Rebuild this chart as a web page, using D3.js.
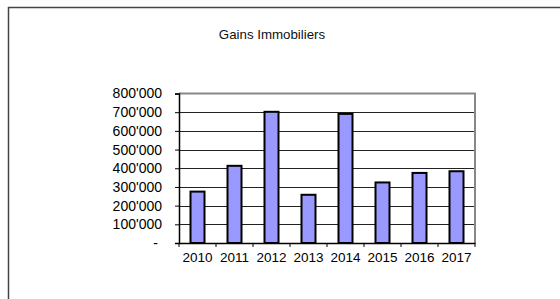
<!DOCTYPE html>
<html>
<head>
<meta charset="utf-8">
<script src="https://cdn.jsdelivr.net/npm/d3@7"></script>
<style>
  body { margin: 0; background: #fff; }
  svg { display: block; font-family: "Liberation Sans", Arial, sans-serif; }
</style>
</head>
<body>
<svg width="560" height="299"></svg>
<script>
// chart data
var years = ["2010", "2011", "2012", "2013", "2014", "2015", "2016", "2017"];
var gains = [275000, 413000, 702000, 258000, 691000, 324000, 375000, 384000];
var yTicks = [0, 100000, 200000, 300000, 400000, 500000, 600000, 700000, 800000];

var svg = d3.select("svg");
var plotLeft = 179, plotRight = 475, plotTop = 93.5, plotBottom = 243;

// outer frame (left + top edges only visible)
svg.append("path")
  .attr("d", "M8.5,299V7.5H560")
  .attr("fill", "none")
  .attr("stroke", "#444")
  .attr("stroke-width", 1.5);

svg.append("text")
  .attr("x", 272)
  .attr("y", 39)
  .attr("text-anchor", "middle")
  .attr("font-size", 13.3)
  .attr("fill", "#111")
  .text("Gains Immobiliers");

var x = d3.scaleBand().domain(years).range([plotLeft, plotRight]);
var y = d3.scaleLinear().domain([0, 800000]).range([plotBottom, plotTop]);

// grid lines
svg.append("g")
  .selectAll("line")
  .data(yTicks.slice(1, -1))
  .enter()
  .append("line")
  .attr("x1", plotLeft).attr("x2", plotRight)
  .attr("y1", function(d) { return Math.round(y(d)) + 0.5; })
  .attr("y2", function(d) { return Math.round(y(d)) + 0.5; })
  .attr("stroke", "#222")
  .attr("stroke-width", 1);

// top and right border of plot area
svg.append("path")
  .attr("d", "M" + plotLeft + "," + plotTop + "H" + plotRight + "V" + plotBottom)
  .attr("fill", "none")
  .attr("stroke", "#888")
  .attr("stroke-width", 2);

// bars
var bw = 14;
svg.append("g")
  .selectAll("rect")
  .data(years)
  .enter()
  .append("rect")
  .attr("x", function(d) { return x(d) + x.bandwidth() / 2 - bw / 2; })
  .attr("y", function(d, i) { return y(gains[i]); })
  .attr("width", bw)
  .attr("height", function(d, i) { return plotBottom - y(gains[i]); })
  .attr("fill", "#9999ff")
  .attr("stroke", "#000")
  .attr("stroke-width", 2);

// y axis
var yAxis = d3.axisLeft(y)
  .tickValues(yTicks)
  .tickSize(4)
  .tickPadding(13)
  .tickFormat(function(d) { return d === 0 ? "-" : d3.format(",")(d).replace(/,/g, "'"); });

var gy = svg.append("g")
  .attr("transform", "translate(" + plotLeft + ",0)")
  .call(yAxis);
gy.select(".domain").attr("stroke", "#000").attr("stroke-width", 1.5);
gy.selectAll(".tick line").attr("stroke", "#000");
gy.selectAll("text").attr("font-size", 14).attr("fill", "#000");
gy.selectAll(".tick").filter(function(d) { return d === 0; }).select("text").attr("dx", -4);

// x axis
var xAxis = d3.axisBottom(x).tickSize(0).tickPadding(9);
var gx = svg.append("g")
  .attr("transform", "translate(0," + plotBottom + ")")
  .call(xAxis);
gx.select(".domain").attr("stroke", "#000").attr("stroke-width", 1.5);
gx.selectAll("text").attr("font-size", 13.5).attr("fill", "#000");

// boundary ticks between categories
gx.append("g")
  .selectAll("line")
  .data(years.concat(["end"]))
  .enter()
  .append("line")
  .attr("x1", function(d, i) { return plotLeft + i * x.step(); })
  .attr("x2", function(d, i) { return plotLeft + i * x.step(); })
  .attr("y1", 0).attr("y2", 4)
  .attr("stroke", "#000");
</script>
</body>
</html>
